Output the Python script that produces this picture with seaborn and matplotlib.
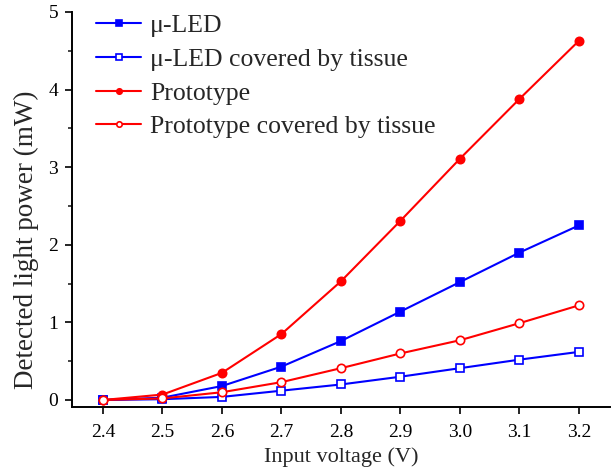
import matplotlib
matplotlib.use("Agg")
import matplotlib.pyplot as plt
import seaborn as sns
import pandas as pd
from matplotlib.ticker import MultipleLocator

voltage = [2.4, 2.5, 2.6, 2.7, 2.8, 2.9, 3.0, 3.1, 3.2]
uled = [0.0, 0.03, 0.18, 0.43, 0.76, 1.14, 1.52, 1.90, 2.25]
uled_tissue = [0.0, 0.01, 0.04, 0.12, 0.20, 0.30, 0.41, 0.52, 0.62]
proto = [0.0, 0.07, 0.35, 0.85, 1.53, 2.31, 3.11, 3.88, 4.63]
proto_tissue = [0.0, 0.02, 0.10, 0.23, 0.41, 0.60, 0.77, 0.99, 1.22]
labels = ["\u03bc-LED", "\u03bc-LED covered by tissue", "Prototype", "Prototype covered by tissue"]

sns.set_style("ticks")
plt.rcParams['font.family'] = ['Liberation Serif', 'DejaVu Serif']

fig = plt.figure(figsize=(6.13, 4.74), dpi=100)
ax = fig.add_axes([0.1175, 0.1414, 0.8775, 0.8333])

series = [
    (uled, labels[0], "#0000FF", "s", True),
    (uled_tissue, labels[1], "#0000FF", "s", False),
    (proto, labels[2], "#FF0000", "o", True),
    (proto_tissue, labels[3], "#FF0000", "o", False),
]
for vals, lab, col, mk, filled in series:
    df = pd.DataFrame({"V": voltage, "P": vals})
    sns.lineplot(data=df, x="V", y="P", ax=ax, color=col, marker=mk, label=lab,
                 markersize=6, linewidth=1.5, markeredgecolor=col,
                 markerfacecolor=col if filled else "white", markeredgewidth=1.2)

ax.set_xlim(2.348, 3.252)
ax.set_ylim(-0.09, 5.0)
ax.set_xticks(voltage)
ax.set_xticklabels([f"{v:.1f}" for v in voltage])
ax.yaxis.set_major_locator(MultipleLocator(1))
ax.yaxis.set_minor_locator(MultipleLocator(0.5))
ax.xaxis.set_minor_locator(MultipleLocator(0.05))
ax.tick_params(axis='both', which='major', direction='out', length=5, width=1.2,
               labelsize=14, colors='black', pad=5)
ax.tick_params(axis='x', which='major', pad=7)
ax.tick_params(axis='x', which='minor', length=0)
ax.tick_params(axis='y', which='minor', direction='out', length=3, width=1.2)
for s in ['top', 'right']:
    ax.spines[s].set_visible(False)
for s in ['left', 'bottom']:
    ax.spines[s].set_linewidth(1.4)
    ax.spines[s].set_color('black')
ax.set_xlabel("Input voltage (V)", fontsize=16, labelpad=5)
ax.set_ylabel("Detected light power (mW)", fontsize=19.5)
ax.yaxis.set_label_coords(-0.062, 0.4227)

ax.legend(loc='upper left', bbox_to_anchor=(0.045, 0.995), frameon=False, fontsize=18.5,
          handlelength=1.75, handletextpad=0.35, labelspacing=0.42, borderaxespad=0,
          borderpad=0, markerscale=0.65)

fig.savefig("out.png", dpi=100)
